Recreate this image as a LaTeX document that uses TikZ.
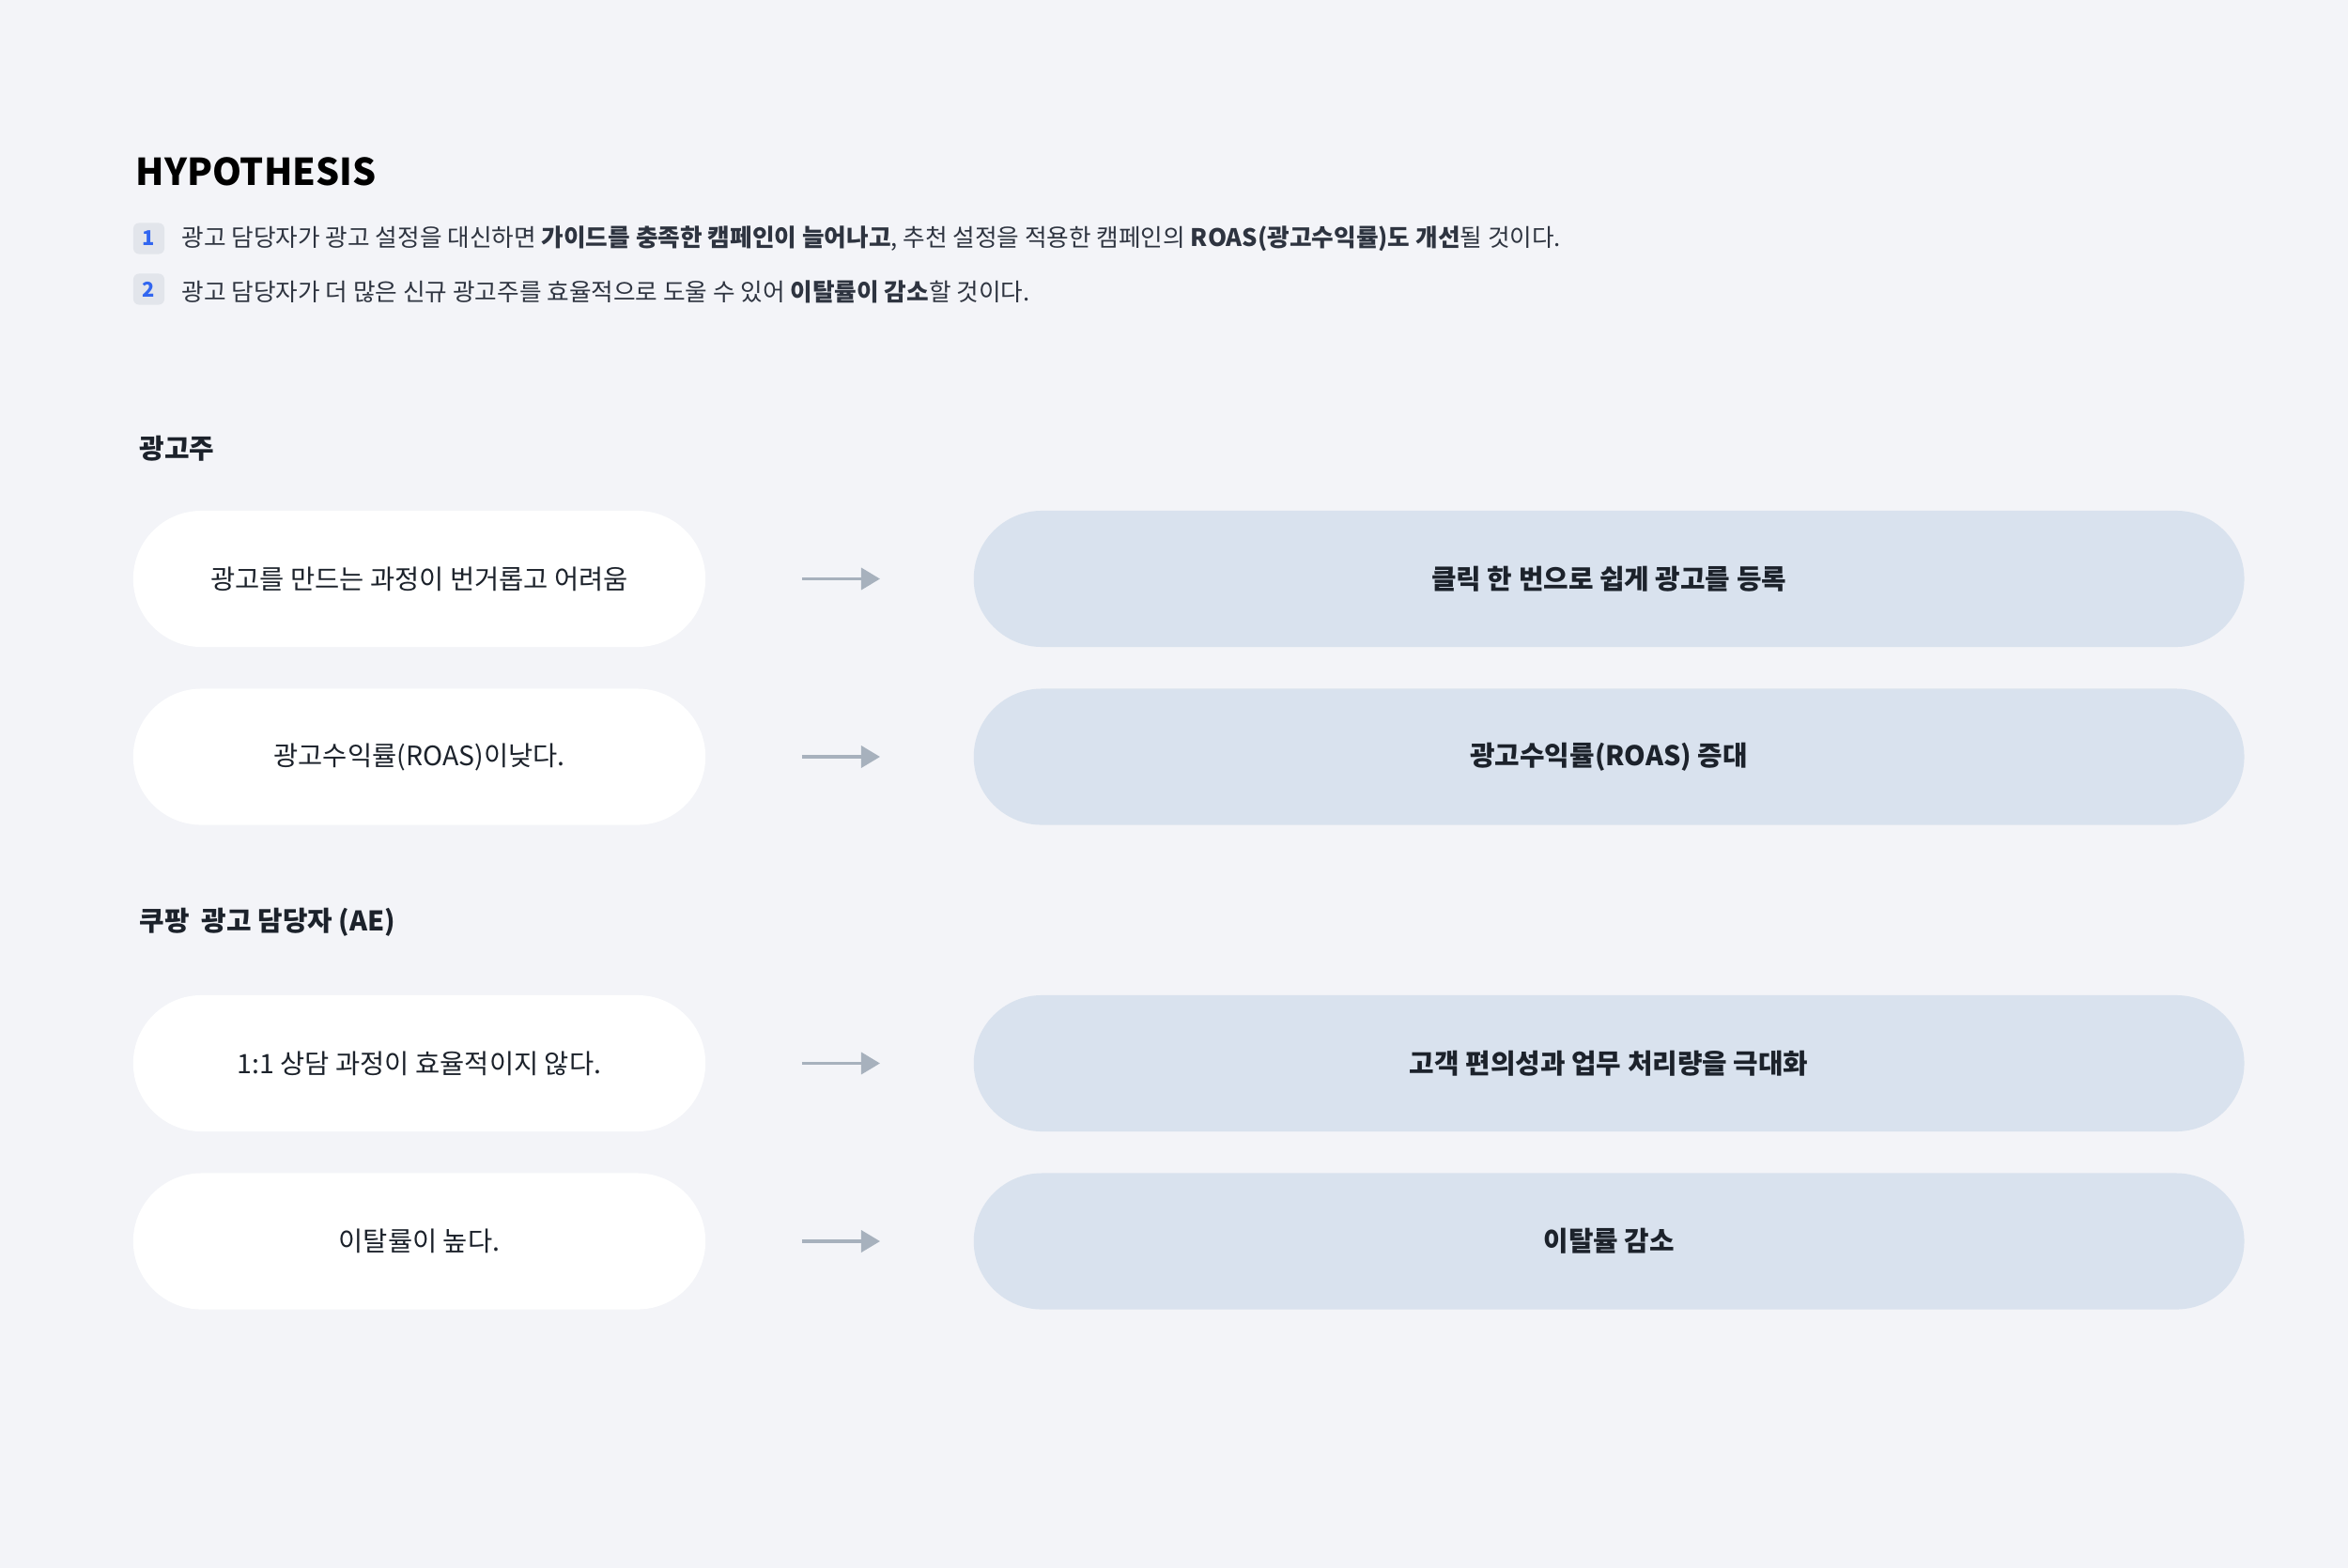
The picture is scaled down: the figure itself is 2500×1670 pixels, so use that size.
\documentclass[tikz,border=0pt]{standalone}
\usepackage{fontspec}
\setmainfont{Noto Sans CJK KR}
\usepackage{tikz}
\usetikzlibrary{shapes.misc,arrows.meta,positioning}

\definecolor{pagebg}{HTML}{F3F4F8}
\definecolor{solfill}{HTML}{D9E2EE}
\definecolor{arrowgray}{HTML}{A7B1BD}
\definecolor{inkdark}{HTML}{1C222B}
\definecolor{bodyink}{HTML}{2E3440}
\definecolor{badgefill}{HTML}{E2E5EB}
\definecolor{badgeblue}{HTML}{3266F0}

\tikzset{
	pill/.style={rounded rectangle, minimum height=1.45cm, inner sep=0pt, text=inkdark},
	problem/.style={pill, fill=white, minimum width=6.09cm, font=\fontsize{8.1}{10}\selectfont},
	solution/.style={pill, fill=solfill, minimum width=13.52cm, font=\bfseries\fontsize{8.2}{10}\selectfont},
	flow/.style={draw=arrowgray, line width=0.035cm, -{Triangle[length=0.2cm,width=0.23cm]}, shorten <=1.02cm, shorten >=0.99cm},
	badge/.style={fill=badgefill, rounded corners=0.06cm, minimum size=0.33cm, inner sep=0pt, text=badgeblue, font=\bfseries\fontsize{6.2}{7}\selectfont},
	claim/.style={anchor=west, inner sep=0pt, text=bodyink, font=\fontsize{7.3}{9}\selectfont},
	grouphead/.style={anchor=west, inner sep=0pt, text=inkdark, font=\bfseries\fontsize{8.2}{10}\selectfont}
}

\begin{document}
\begin{tikzpicture}[x=0.01cm,y=-0.01cm]
		\fill[pagebg] (0,0) rectangle (2500,1670);
		\useasboundingbox (0,0) rectangle (2500,1670);

		% hypothesis
		\node[anchor=base west, inner sep=0pt, font=\bfseries\fontsize{11.2}{13}\selectfont] (title) at (144,198) {HYPOTHESIS};
		\node[badge] (b1) at (158.5,254) {1};
		\node[badge] (b2) at (158.5,308) {2};
		\node[claim] (h1) at (193,254) {광고 담당자가 광고 설정을 대신하면 \textbf{가이드를 충족한 캠페인이 늘어나고}, 추천 설정을 적용한 캠페인의 \textbf{ROAS(광고수익률)도 개선}될 것이다.};
		\node[claim] (h2) at (193,311) {광고 담당자가 더 많은 신규 광고주를 효율적으로 도울 수 있어 \textbf{이탈률이 감소}할 것이다.};

		% 광고주
		\node[grouphead] (g1) at (148,478) {광고주};
		\node[problem] (p1) at (446.5,616.5) {광고를 만드는 과정이 번거롭고 어려움};
		\node[problem, below=0.43cm of p1] (p2) {광고수익률(ROAS)이낮다.};
		\node[solution, right=2.84cm of p1] (s1) {클릭 한 번으로 쉽게 광고를 등록};
		\node[solution, right=2.84cm of p2] (s2) {광고수익률(ROAS) 증대};

		% 쿠팡 광고 담당자
		\node[grouphead] (g2) at (148,982) {쿠팡\ \ 광고 담당자 (AE)};
		\node[problem] (p3) at (446.5,1132.5) {1:1 상담 과정이 효율적이지 않다.};
		\node[problem, below=0.43cm of p3] (p4) {이탈률이 높다.};
		\node[solution, right=2.84cm of p3] (s3) {고객 편의성과 업무 처리량을 극대화};
		\node[solution, right=2.84cm of p4] (s4) {이탈률 감소};

		\foreach \i in {1,...,4} {
			\draw[flow] (p\i.east) -- (s\i.west);
		}
	\end{tikzpicture}
\end{document}
